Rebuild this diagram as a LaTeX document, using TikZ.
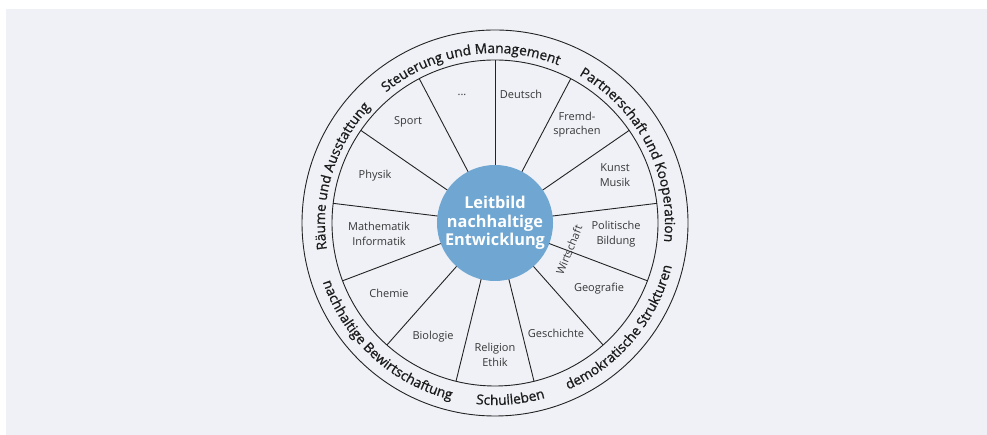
\documentclass[tikz,border=0pt]{standalone}
\usepackage{fontspec}
\setmainfont{Open Sans}
\newfontfamily\ringfont[FakeBold=0.9]{Open Sans}
\usetikzlibrary{decorations.text}
\definecolor{bg}{RGB}{239,241,246}
\definecolor{hubblue}{RGB}{111,167,210}
\definecolor{linecol}{RGB}{35,35,35}
\definecolor{labcol}{RGB}{55,55,55}
\definecolor{ringcol}{RGB}{28,28,28}
\begin{document}
\begin{tikzpicture}[x=1pt,y=1pt,
  lab/.style={font=\fontsize{11}{14.3}\selectfont, text=labcol, align=center, inner sep=0pt},
  wheelline/.style={draw=linecol, line width=0.9pt},
  ringtext/.style={decorate, decoration={text along path, text align=center, text color=ringcol,
      text={|\ringfont\fontsize{13.7}{16}\selectfont|#1}}}
]
\useasboundingbox (0,0) rectangle (987,435);
\fill[bg] (6,0) rectangle (987,426);
\coordinate (c) at (495,212);
\draw[wheelline] (c) circle[radius=193pt];
\draw[wheelline] (c) circle[radius=163pt];
\foreach \k in {0,...,12} {
  \pgfmathsetmacro\a{90+\k*360/13}
  \draw[wheelline] ([shift={(\a:57pt)}]c) -- ([shift={(\a:163pt)}]c);
}
\node[circle, fill=hubblue, minimum size=116pt, inner sep=0pt, text=white, align=center,
      font=\bfseries\fontsize{16.3}{18.7}\selectfont] (hub) at (c) {Leitbild\\nachhaltige\\Entwicklung};

% sector labels
\node[lab] (dots) at (462,340) {...};
\node[lab] (deutsch) at (521,341) {Deutsch};
\node[lab] (fremd) at (577,310) {Fremd-\\sprachen};
\node[lab] (kunst) at (615,260) {Kunst\\Musik};
\node[lab] (politik) at (616,201) {Politische\\Bildung};
\node[lab] (geo) at (599,146) {Geografie};
\node[lab] (gesch) at (556,102) {Geschichte};
\node[lab] (reli) at (495,80) {Religion\\Ethik};
\node[lab] (bio) at (433,98) {Biologie};
\node[lab] (chemie) at (389,142) {Chemie};
\node[lab] (mathe) at (379,201) {Mathematik\\Informatik};
\node[lab] (physik) at (375,259) {Physik};
\node[lab] (sport) at (408,313) {Sport};
\node[lab, rotate=68] (wirt) at (569,185) {Wirtschaft};

% ring texts
\path[ringtext={Steuerung und Management}] ([shift={(144:170pt)}]c) arc[start angle=144, end angle=54, radius=170pt];
\path[ringtext={Partnerschaft und Kooperation}] ([shift={(77:170pt)}]c) arc[start angle=77, end angle=-23, radius=170pt];
\path[ringtext={Räume und Ausstattung}] ([shift={(208:170pt)}]c) arc[start angle=208, end angle=118, radius=170pt];
\path[ringtext={demokratische Strukturen}] ([shift={(-90:182pt)}]c) arc[start angle=-90, end angle=10, radius=182pt];
\path[ringtext={Schulleben}] ([shift={(-115:182pt)}]c) arc[start angle=-115, end angle=-55, radius=182pt];
\path[ringtext={nachhaltige Bewirtschaftung}] ([shift={(-180:182pt)}]c) arc[start angle=-180, end angle=-85, radius=182pt];
\end{tikzpicture}
\end{document}
